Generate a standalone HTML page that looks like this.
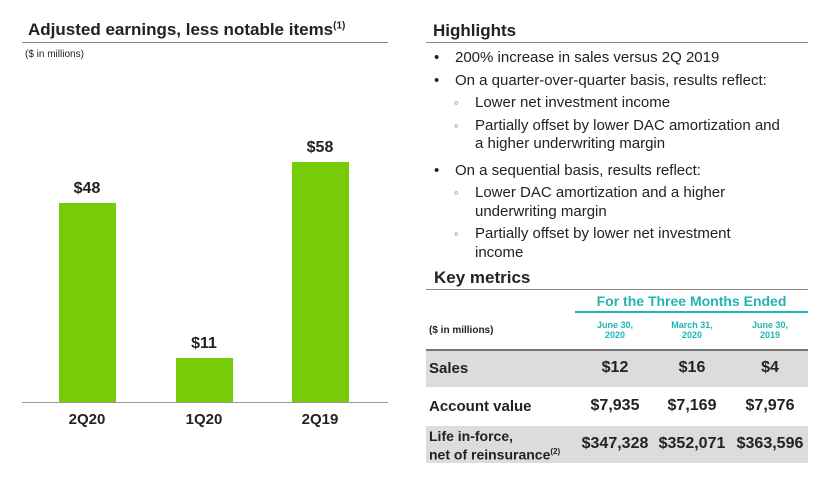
<!DOCTYPE html>
<html><head><style>
body{margin:0;width:833px;height:479px;background:#fff;position:relative;overflow:hidden;font-family:"Liberation Sans",Arial,sans-serif;color:#222}
.a{position:absolute;white-space:nowrap}
.b{font-weight:bold}
.t{font-size:15px;line-height:18px}
.c{text-align:center}
.teal{color:#1fb5b5}
.s{font-size:13px;line-height:18px;color:#666}
</style></head><body>
<div class="a b" style="left:28px;top:20px;font-size:17px">Adjusted earnings, less notable items<sup style="font-size:10px">(1)</sup></div>
<div class="a" style="left:22px;top:42px;width:366px;height:1px;background:#888"></div>
<div class="a" style="left:25px;top:49px;font-size:10px">($ in millions)</div>
<div class="a" style="left:59px;top:203px;width:57px;height:199px;background:#77cc0a"></div>
<div class="a" style="left:176px;top:358px;width:57px;height:44px;background:#77cc0a"></div>
<div class="a" style="left:292px;top:162px;width:57px;height:240px;background:#77cc0a"></div>
<div class="a" style="left:22px;top:402px;width:366px;height:1px;background:#999"></div>
<div class="a b c" style="left:47px;width:80px;top:180px;font-size:16px">$48</div>
<div class="a b c" style="left:164px;width:80px;top:335px;font-size:16px">$11</div>
<div class="a b c" style="left:280px;width:80px;top:139px;font-size:16px">$58</div>
<div class="a b c" style="left:47px;width:80px;top:411px;font-size:15px">2Q20</div>
<div class="a b c" style="left:164px;width:80px;top:411px;font-size:15px">1Q20</div>
<div class="a b c" style="left:280px;width:80px;top:411px;font-size:15px">2Q19</div>

<div class="a b" style="left:433px;top:21px;font-size:17px">Highlights</div>
<div class="a" style="left:426px;top:42px;width:382px;height:1px;background:#888"></div>
<div class="a t" style="left:434px;top:49px">•</div><div class="a t" style="left:455px;top:49px">200% increase in sales versus 2Q 2019</div>
<div class="a t" style="left:434px;top:72px">•</div><div class="a t" style="left:455px;top:72px">On a quarter-over-quarter basis, results reflect:</div>
<div class="a s" style="left:454px;top:94px">◦</div><div class="a t" style="left:475px;top:94px">Lower net investment income</div>
<div class="a s" style="left:454px;top:117px">◦</div><div class="a t" style="left:475px;top:117px">Partially offset by lower DAC amortization and</div>
<div class="a t" style="left:475px;top:135px">a higher underwriting margin</div>
<div class="a t" style="left:434px;top:162px">•</div><div class="a t" style="left:455px;top:162px">On a sequential basis, results reflect:</div>
<div class="a s" style="left:454px;top:184px">◦</div><div class="a t" style="left:475px;top:184px">Lower DAC amortization and a higher</div>
<div class="a t" style="left:475px;top:203px">underwriting margin</div>
<div class="a s" style="left:454px;top:225px">◦</div><div class="a t" style="left:475px;top:225px">Partially offset by lower net investment</div>
<div class="a t" style="left:475px;top:244px">income</div>

<div class="a b" style="left:434px;top:268px;font-size:17px">Key metrics</div>
<div class="a" style="left:426px;top:289px;width:382px;height:1px;background:#888"></div>
<div class="a b c teal" style="left:575px;width:233px;top:293px;font-size:14px">For the Three Months Ended</div>
<div class="a" style="left:575px;top:311px;width:233px;height:2px;background:#1fb5b5"></div>
<div class="a b" style="left:429px;top:325px;font-size:10px">($ in millions)</div>
<div class="a b c teal" style="left:575px;width:80px;top:320px;font-size:9px;line-height:10px">June 30,<br>2020</div>
<div class="a b c teal" style="left:652px;width:80px;top:320px;font-size:9px;line-height:10px">March 31,<br>2020</div>
<div class="a b c teal" style="left:730px;width:80px;top:320px;font-size:9px;line-height:10px">June 30,<br>2019</div>
<div class="a" style="left:426px;top:349px;width:382px;height:38px;background:#dcdcdc;border-top:2px solid #777;box-sizing:border-box"></div>
<div class="a b" style="left:429px;top:360px;font-size:15px">Sales</div>
<div class="a b c" style="left:575px;width:80px;top:359px;font-size:16px">$12</div>
<div class="a b c" style="left:652px;width:80px;top:359px;font-size:16px">$16</div>
<div class="a b c" style="left:730px;width:80px;top:359px;font-size:16px">$4</div>
<div class="a b" style="left:429px;top:398px;font-size:15px">Account value</div>
<div class="a b c" style="left:575px;width:80px;top:397px;font-size:16px">$7,935</div>
<div class="a b c" style="left:652px;width:80px;top:397px;font-size:16px">$7,169</div>
<div class="a b c" style="left:730px;width:80px;top:397px;font-size:16px">$7,976</div>
<div class="a" style="left:426px;top:426px;width:382px;height:37px;background:#dcdcdc"></div>
<div class="a b" style="left:429px;top:428px;font-size:14px;line-height:16px">Life in-force,<br>net of reinsurance<sup style="font-size:8px">(2)</sup></div>
<div class="a b c" style="left:575px;width:80px;top:435px;font-size:16px">$347,328</div>
<div class="a b c" style="left:652px;width:80px;top:435px;font-size:16px">$352,071</div>
<div class="a b c" style="left:730px;width:80px;top:435px;font-size:16px">$363,596</div>
</body></html>
